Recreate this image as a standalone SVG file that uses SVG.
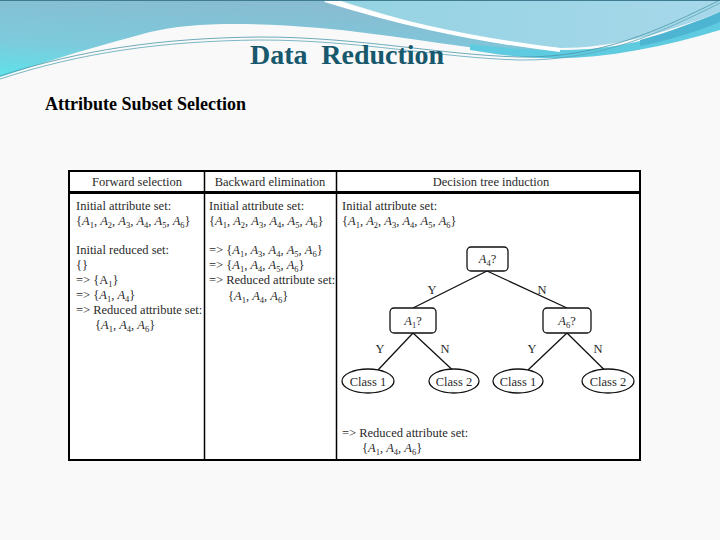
<svg xmlns="http://www.w3.org/2000/svg" width="720" height="540" viewBox="0 0 720 540">
<defs>
<linearGradient id="gMed" x1="0.4" y1="0" x2="0" y2="1">
<stop offset="0" stop-color="#88bcd2"/>
<stop offset="0.6" stop-color="#7ccbdc"/>
<stop offset="1" stop-color="#5ee2ea"/>
</linearGradient>
<linearGradient id="gLight" x1="0" y1="0" x2="1" y2="0">
<stop offset="0" stop-color="#95d3e2"/>
<stop offset="1" stop-color="#a6d8ea"/>
</linearGradient>
<style>
.t{font-family:"Liberation Serif","Times New Roman",serif;font-size:12.5px;fill:#2a2a2a}
.m{font-style:italic}
.s{font-size:8.5px}
.c{text-anchor:middle}
.ln{stroke:#111;stroke-width:1.3;fill:none}
.nd{fill:#fff;stroke:#111;stroke-width:1.3}
</style>
</defs>
<rect width="720" height="540" fill="#f9f9f9"/>
<!-- banner -->
<path d="M0,0 L330,0 C390,18 450,35 560,50 L560,56 C480,52 400,35 320,28 C250,22 190,22 150,32 C100,45 50,60 0,77 Z" fill="url(#gMed)"/>
<path d="M338,0 L720,0 L720,12 C660,35 610,48 560,48 C470,40 400,20 338,0 Z" fill="url(#gLight)"/>
<path d="M470,44 C520,50 560,52 600,48 C650,42 690,28 720,12 L720,30 C660,48 600,60 540,58 C510,57 490,53 470,50 Z" fill="#5fcbe0"/>
<path d="M640,40 C670,32 700,20 720,12 L720,22 C695,32 670,40 640,46 Z" fill="#4db4d2"/>
<path d="M325,0 C390,20 460,38 560,50" fill="none" stroke="#ffffff" stroke-width="4"/>
<path d="M0,76 C80,50 160,38 260,37 C360,37 440,55 520,57 C600,58 660,30 720,0" fill="none" stroke="#4a97aa" stroke-width="0.8"/>
<path d="M0,79 C80,53 160,41 260,40 C360,40 440,58 520,60 C600,61 660,33 720,3" fill="none" stroke="#5aa6b8" stroke-width="0.8"/>
<line x1="0" y1="0.5" x2="720" y2="0.5" stroke="#3f7c92" stroke-width="1"/>
<text x="347" y="64" text-anchor="middle" font-family="Liberation Serif, Times New Roman, serif" font-weight="bold" font-size="28" fill="#17586c" textLength="194" xml:space="preserve">Data  Reduction</text>
<text x="45" y="110" font-family="Liberation Serif, Times New Roman, serif" font-weight="bold" font-size="18" fill="#000">Attribute Subset Selection</text>
<!-- table -->
<g id="table">
<rect x="69" y="171" width="571" height="289" fill="#fff" stroke="#000" stroke-width="2"/>
<line x1="69" y1="192.5" x2="640" y2="192.5" stroke="#000" stroke-width="3"/>
<line x1="204.5" y1="171" x2="204.5" y2="460" stroke="#000" stroke-width="1.5"/>
<line x1="336.5" y1="171" x2="336.5" y2="460" stroke="#000" stroke-width="1.5"/>
<text class="t c" x="137" y="186">Forward selection</text>
<text class="t c" x="270" y="186">Backward elimination</text>
<text class="t c" x="491" y="186">Decision tree induction</text>
</g>
<g id="forward">
<text class="t" x="76" y="210">Initial attribute set:</text>
<text class="t" x="76" y="225">{<tspan class="m">A</tspan><tspan class="s" dy="2.5">1</tspan><tspan dy="-2.5">, </tspan><tspan class="m">A</tspan><tspan class="s" dy="2.5">2</tspan><tspan dy="-2.5">, </tspan><tspan class="m">A</tspan><tspan class="s" dy="2.5">3</tspan><tspan dy="-2.5">, </tspan><tspan class="m">A</tspan><tspan class="s" dy="2.5">4</tspan><tspan dy="-2.5">, </tspan><tspan class="m">A</tspan><tspan class="s" dy="2.5">5</tspan><tspan dy="-2.5">, </tspan><tspan class="m">A</tspan><tspan class="s" dy="2.5">6</tspan><tspan dy="-2.5">}</tspan></text>
<text class="t" x="76" y="254">Initial reduced set:</text>
<text class="t" x="76" y="269">{}</text>
<text class="t" x="76" y="284">=&gt; {A<tspan class="s" dy="2.5">1</tspan><tspan dy="-2.5">}</tspan></text>
<text class="t" x="76" y="299">=&gt; {<tspan class="m">A</tspan><tspan class="s" dy="2.5">1</tspan><tspan dy="-2.5">, </tspan><tspan class="m">A</tspan><tspan class="s" dy="2.5">4</tspan><tspan dy="-2.5">}</tspan></text>
<text class="t" x="76" y="314">=&gt; Reduced attribute set:</text>
<text class="t" x="95" y="329">{<tspan class="m">A</tspan><tspan class="s" dy="2.5">1</tspan><tspan dy="-2.5">, </tspan><tspan class="m">A</tspan><tspan class="s" dy="2.5">4</tspan><tspan dy="-2.5">, </tspan><tspan class="m">A</tspan><tspan class="s" dy="2.5">6</tspan><tspan dy="-2.5">}</tspan></text>
</g>
<g id="backward">
<text class="t" x="209" y="210">Initial attribute set:</text>
<text class="t" x="209" y="225">{<tspan class="m">A</tspan><tspan class="s" dy="2.5">1</tspan><tspan dy="-2.5">, </tspan><tspan class="m">A</tspan><tspan class="s" dy="2.5">2</tspan><tspan dy="-2.5">, </tspan><tspan class="m">A</tspan><tspan class="s" dy="2.5">3</tspan><tspan dy="-2.5">, </tspan><tspan class="m">A</tspan><tspan class="s" dy="2.5">4</tspan><tspan dy="-2.5">, </tspan><tspan class="m">A</tspan><tspan class="s" dy="2.5">5</tspan><tspan dy="-2.5">, </tspan><tspan class="m">A</tspan><tspan class="s" dy="2.5">6</tspan><tspan dy="-2.5">}</tspan></text>
<text class="t" x="209" y="254">=&gt; {<tspan class="m">A</tspan><tspan class="s" dy="2.5">1</tspan><tspan dy="-2.5">, </tspan><tspan class="m">A</tspan><tspan class="s" dy="2.5">3</tspan><tspan dy="-2.5">, </tspan><tspan class="m">A</tspan><tspan class="s" dy="2.5">4</tspan><tspan dy="-2.5">, </tspan><tspan class="m">A</tspan><tspan class="s" dy="2.5">5</tspan><tspan dy="-2.5">, </tspan><tspan class="m">A</tspan><tspan class="s" dy="2.5">6</tspan><tspan dy="-2.5">}</tspan></text>
<text class="t" x="209" y="269">=&gt; {<tspan class="m">A</tspan><tspan class="s" dy="2.5">1</tspan><tspan dy="-2.5">, </tspan><tspan class="m">A</tspan><tspan class="s" dy="2.5">4</tspan><tspan dy="-2.5">, </tspan><tspan class="m">A</tspan><tspan class="s" dy="2.5">5</tspan><tspan dy="-2.5">, </tspan><tspan class="m">A</tspan><tspan class="s" dy="2.5">6</tspan><tspan dy="-2.5">}</tspan></text>
<text class="t" x="209" y="284">=&gt; Reduced attribute set:</text>
<text class="t" x="228" y="300">{<tspan class="m">A</tspan><tspan class="s" dy="2.5">1</tspan><tspan dy="-2.5">, </tspan><tspan class="m">A</tspan><tspan class="s" dy="2.5">4</tspan><tspan dy="-2.5">, </tspan><tspan class="m">A</tspan><tspan class="s" dy="2.5">6</tspan><tspan dy="-2.5">}</tspan></text>
</g>
<g id="decision">
<text class="t" x="342" y="210">Initial attribute set:</text>
<text class="t" x="342" y="225">{<tspan class="m">A</tspan><tspan class="s" dy="2.5">1</tspan><tspan dy="-2.5">, </tspan><tspan class="m">A</tspan><tspan class="s" dy="2.5">2</tspan><tspan dy="-2.5">, </tspan><tspan class="m">A</tspan><tspan class="s" dy="2.5">3</tspan><tspan dy="-2.5">, </tspan><tspan class="m">A</tspan><tspan class="s" dy="2.5">4</tspan><tspan dy="-2.5">, </tspan><tspan class="m">A</tspan><tspan class="s" dy="2.5">5</tspan><tspan dy="-2.5">, </tspan><tspan class="m">A</tspan><tspan class="s" dy="2.5">6</tspan><tspan dy="-2.5">}</tspan></text>
<text class="t" x="342" y="437">=&gt; Reduced attribute set:</text>
<text class="t" x="362" y="452">{<tspan class="m">A</tspan><tspan class="s" dy="2.5">1</tspan><tspan dy="-2.5">, </tspan><tspan class="m">A</tspan><tspan class="s" dy="2.5">4</tspan><tspan dy="-2.5">, </tspan><tspan class="m">A</tspan><tspan class="s" dy="2.5">6</tspan><tspan dy="-2.5">}</tspan></text>
</g>
<g id="connectors">
<line class="ln" x1="487" y1="271" x2="413" y2="308"/>
<line class="ln" x1="487" y1="271" x2="567" y2="308"/>
<line class="ln" x1="413" y1="333" x2="378" y2="370"/>
<line class="ln" x1="413" y1="333" x2="452" y2="369.5"/>
<line class="ln" x1="567" y1="333" x2="528" y2="370"/>
<line class="ln" x1="567" y1="333" x2="604" y2="369.5"/>
<text class="t c" x="432" y="294">Y</text>
<text class="t c" x="542" y="294">N</text>
<text class="t c" x="380" y="353">Y</text>
<text class="t c" x="445" y="353">N</text>
<text class="t c" x="532" y="353">Y</text>
<text class="t c" x="598" y="353">N</text>
</g>
<g id="root">
<rect class="nd" x="467" y="247" width="41" height="24" rx="4"/>
<text class="t c" x="487.5" y="263"><tspan class="m">A</tspan><tspan class="s" dy="2.5">4</tspan><tspan dy="-2.5">?</tspan></text>
</g>
<g id="nodeA1">
<rect class="nd" x="390" y="308" width="46" height="25" rx="4"/>
<text class="t c" x="413" y="325"><tspan class="m">A</tspan><tspan class="s" dy="2.5">1</tspan><tspan dy="-2.5">?</tspan></text>
</g>
<g id="nodeA6">
<rect class="nd" x="543" y="308" width="48" height="25" rx="4"/>
<text class="t c" x="567" y="325"><tspan class="m">A</tspan><tspan class="s" dy="2.5">6</tspan><tspan dy="-2.5">?</tspan></text>
</g>
<g id="leaf1">
<ellipse class="nd" cx="368" cy="381" rx="26" ry="12"/>
<text class="t c" x="368" y="385.5">Class 1</text>
</g>
<g id="leaf2">
<ellipse class="nd" cx="454" cy="381" rx="25" ry="12"/>
<text class="t c" x="454" y="385.5">Class 2</text>
</g>
<g id="leaf3">
<ellipse class="nd" cx="518" cy="381" rx="25" ry="12"/>
<text class="t c" x="518" y="385.5">Class 1</text>
</g>
<g id="leaf4">
<ellipse class="nd" cx="608" cy="381" rx="26" ry="12"/>
<text class="t c" x="608" y="385.5">Class 2</text>
</g>
</svg>
